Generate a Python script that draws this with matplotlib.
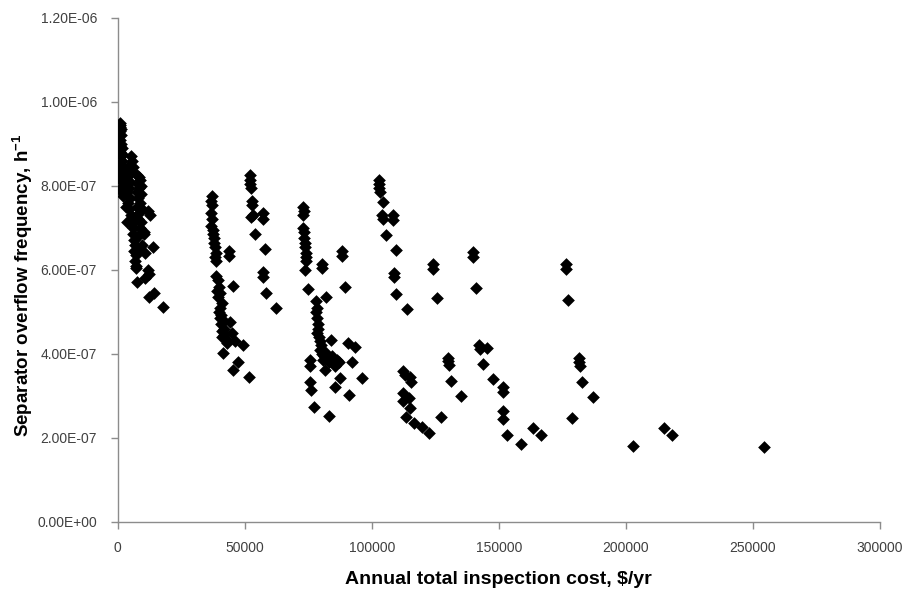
import matplotlib
matplotlib.use("Agg")
import matplotlib.pyplot as plt

# Annual total inspection cost ($/yr) and separator overflow frequency (x1e-7 per hour)
cost = [
    # group near zero cost
    800, 1000, 700, 1200, 900, 1100, 800, 1300, 900, 1500, 1000, 1800, 1200, 1600,
    1100, 2000, 1400, 1700, 1200, 2200, 1500, 1900, 1300, 2300, 1700, 2600, 2000,
    5200, 5600, 5000, 5800, 5400, 4200, 3600, 4800, 3300, 4400, 3800, 5000, 4100,
    3300, 4600, 5200, 3500, 5600, 6000, 5800, 6200, 6600, 6400, 7000, 6800, 7300, 7100,
    7500, 8200, 8800, 7800, 9000, 8400, 7600, 9200, 8000, 8800, 7400, 9400, 8300,
    7800, 9000, 8600, 9800, 8000, 9600, 8800, 10200,
    12000, 12800, 10400, 13800, 10800, 11800, 12400, 10600, 7600, 14200, 12200, 18000,
    # ~40k group
    37000, 36800, 37200, 36600, 37000, 36800, 37300, 37500, 37700, 38000, 38300, 38500,
    38200, 38800, 43700, 43900,
    38500, 39400, 40000, 39000, 40200, 39600, 41000, 40400, 39800, 40800, 40200, 41500,
    40600, 42000, 41200, 41800, 42500, 41000, 43000,
    45300, 44100, 44900, 46000, 49200, 41300, 47200, 45300, 51600,
    # ~55k group
    52000, 52200, 52100, 52400, 52800, 53000, 53200, 52600, 57000, 57300, 54000, 57900,
    57000, 57200, 58300, 62200,
    # ~75k group
    73000, 73200, 72800, 73000, 73300, 73500, 73800, 73600, 74000, 74300, 74000, 73800,
    80300, 80500, 88200, 88400, 74800, 89400, 81900,
    78000, 78400, 78200, 78600, 78800, 79000, 78500, 79200, 79600, 80000, 79800, 80400,
    81000, 80700, 81600,
    83900, 90500, 93300, 75600, 75600, 81500, 86200, 85400, 87000, 92100, 87400, 96100,
    75600, 76000, 85400, 90900, 77200, 83100, 84500, 83000,
    # ~105k group and beyond
    102800, 102900, 103000, 103200, 104300, 104000, 104300, 108300, 108500, 105500,
    109400, 108700, 108900, 109400, 113800,
    124000, 124200, 125600, 139800, 140000, 141000,
    112200, 113000, 115000, 115400, 112200, 114600, 112400, 115000, 113400, 116500,
    119700, 122400, 127200,
    130000, 130200, 130300, 131100, 135000,
    142100, 142600, 145300, 143700, 147600, 151600, 151800, 151600, 151800, 153100,
    176400, 176600, 177200, 181500, 181700, 181800, 182700, 187000, 178700,
    158700, 163400, 166500, 202800, 215000, 218100, 254300,
]
freq_e7 = [
    9.5, 9.45, 9.4, 9.35, 9.3, 9.2, 9.1, 9.0, 8.95, 8.9, 8.8, 8.75, 8.7, 8.6,
    8.5, 8.45, 8.4, 8.3, 8.2, 8.15, 8.1, 8.0, 7.95, 7.9, 7.85, 7.8, 7.75,
    8.7, 8.6, 8.5, 8.45, 8.35, 8.3, 8.2, 8.1, 8.0, 7.95, 7.85, 7.7, 7.6,
    7.5, 7.45, 7.3, 7.15, 7.1, 7.0, 6.85, 6.7, 6.6, 6.45, 6.35, 6.2, 6.1, 6.05,
    8.25, 8.2, 8.15, 8.05, 8.0, 7.95, 7.85, 7.8, 7.7, 7.6, 7.5, 7.45, 7.35,
    7.2, 7.15, 7.0, 6.9, 6.8, 6.6, 6.5, 6.9,
    7.4, 7.3, 6.85, 6.55, 6.4, 6.0, 5.9, 5.8, 5.7, 5.45, 5.35, 5.12,
    7.75, 7.65, 7.55, 7.35, 7.2, 7.05, 6.95, 6.85, 6.75, 6.65, 6.55, 6.4,
    6.3, 6.2, 6.45, 6.32,
    5.85, 5.75, 5.6, 5.5, 5.45, 5.35, 5.2, 5.1, 5.0, 4.92, 4.85, 4.8,
    4.7, 4.6, 4.55, 4.45, 4.35, 4.4, 4.25,
    5.62, 4.76, 4.5, 4.3, 4.2, 4.02, 3.8, 3.62, 3.45,
    8.25, 8.15, 8.05, 7.95, 7.65, 7.55, 7.3, 7.25, 7.35, 7.22, 6.85, 6.5,
    5.95, 5.82, 5.45, 5.1,
    7.5, 7.4, 7.3, 7.0, 6.9, 6.75, 6.65, 6.55, 6.4, 6.3, 6.2, 6.0,
    6.15, 6.05, 6.45, 6.32, 5.55, 5.6, 5.36,
    5.25, 5.1, 5.0, 4.85, 4.7, 4.6, 4.5, 4.4, 4.3, 4.2, 4.1, 4.0,
    3.95, 3.86, 4.05,
    4.33, 4.26, 4.17, 3.86, 3.71, 3.62, 3.86, 3.7, 3.8, 3.8, 3.43, 3.43,
    3.33, 3.14, 3.21, 3.02, 2.74, 2.52, 3.95, 3.8,
    8.15, 8.05, 7.95, 7.85, 7.62, 7.3, 7.2, 7.3, 7.18, 6.83,
    6.48, 5.92, 5.82, 5.43, 5.07,
    6.15, 6.02, 5.33, 6.42, 6.3, 5.57,
    3.58, 3.5, 3.45, 3.33, 3.07, 2.95, 2.88, 2.71, 2.5, 2.36,
    2.26, 2.12, 2.5,
    3.9, 3.82, 3.74, 3.36, 3.0,
    4.2, 4.12, 4.14, 3.76, 3.4, 3.2, 3.08, 2.65, 2.45, 2.07,
    6.15, 6.02, 5.29, 3.9, 3.8, 3.7, 3.33, 2.98, 2.48,
    1.86, 2.24, 2.07, 1.81, 2.24, 2.07, 1.79,
]
freq = [v * 1e-7 for v in freq_e7]

x_ticks = [0, 50000, 100000, 150000, 200000, 250000, 300000]
y_ticks = [0, 2e-7, 4e-7, 6e-7, 8e-7, 1e-6, 1.2e-6]

plt.rcParams['font.family'] = ['Liberation Sans', 'DejaVu Sans']
plt.rcParams['mathtext.default'] = 'regular'

fig = plt.figure(figsize=(9.06, 5.95), dpi=100)
ax = fig.add_axes([0.130, 0.123, 0.841, 0.847])

ax.scatter(cost, freq, marker='D', s=42, color='black', linewidths=0, zorder=3)

ax.set_xlim(0, 300000)
ax.set_ylim(0, 1.2e-6)
ax.set_xticks(x_ticks)
ax.set_xticklabels([str(v) for v in x_ticks])
ax.set_yticks(y_ticks)
ax.set_yticklabels(['%.2E' % v for v in y_ticks])

for side in ['top', 'right']:
    ax.spines[side].set_visible(False)
for side in ['left', 'bottom']:
    ax.spines[side].set_color('#8c8c8c')
    ax.spines[side].set_linewidth(1.0)

ax.tick_params(axis='both', direction='out', length=5, width=1, color='#8c8c8c',
               labelsize=10, labelcolor='#404040')
ax.tick_params(axis='x', pad=9)
ax.tick_params(axis='y', pad=10)

ax.set_xlabel('Annual total inspection cost, $/yr', fontsize=14, fontweight='bold', labelpad=11)
ax.set_ylabel('Separator overflow frequency, h$^{-1}$', fontsize=13.5, fontweight='bold', labelpad=2)
ax.yaxis.set_label_coords(-0.108, 0.47)

fig.savefig('out.png', dpi=100)
